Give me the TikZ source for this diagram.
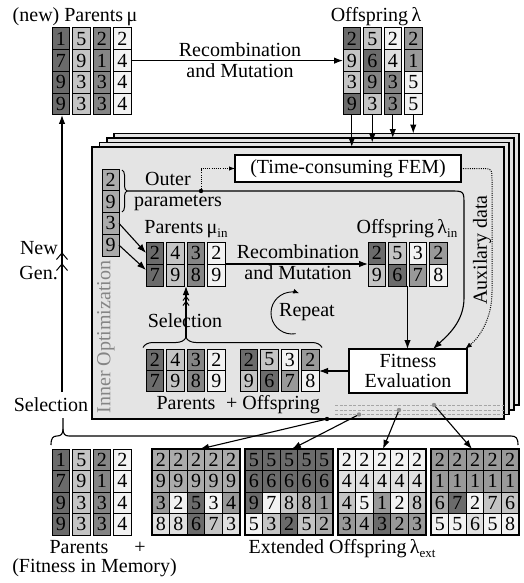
\documentclass[tikz,border=0pt]{standalone}
\usepackage{fontspec}
\setmainfont{Liberation Serif}
\usetikzlibrary{arrows.meta,decorations.pathreplacing,calc}
\definecolor{g1}{gray}{0.42}
\definecolor{g2}{gray}{0.52}
\definecolor{g3}{gray}{0.60}
\definecolor{g4}{gray}{0.67}
\definecolor{g5}{gray}{0.77}
\definecolor{g6}{gray}{0.88}
\definecolor{g7}{gray}{0.95}
\definecolor{fr}{gray}{0.895}
\definecolor{innerg}{gray}{0.52}
\definecolor{dotg}{gray}{0.55}
\newcommand\cellcol[6]{%
  \foreach \dg/\cl [count=\ii] in {#6}{%
    \node[cell,fill=\cl,minimum width=#4pt,minimum height=#5pt,anchor=north west] (#1-\ii) at ({#2},{-#3-(\ii-1)*#5}) {\dg};}}
\newcommand\cellrow[6]{%
  \foreach \dg/\cl [count=\ii] in {#6}{%
    \node[cell,fill=\cl,minimum width=#4pt,minimum height=#5pt,anchor=north west] (#1-\ii) at ({#2+(\ii-1)*#4},{-#3}) {\dg};}}
\newcommand\subtxt[1]{\raisebox{-4pt}{\fontsize{13}{13}\selectfont #1}}
\begin{document}
\begin{tikzpicture}[x=1pt,y=1pt,font=\fontsize{20}{20}\selectfont,
  cell/.style={draw,line width=1pt,inner sep=0pt,outer sep=0pt},
  arr/.style={-{Latex[length=9pt,width=6.5pt]},line width=1.1pt},
  frm/.style={draw,line width=1.1pt,fill=fr,anchor=north west,inner sep=0pt,outer sep=0pt},
  box/.style={draw,line width=1.1pt,fill=white,inner sep=0pt,outer sep=0pt},
  dotl/.style={line width=1pt,dash pattern=on 1pt off 1.2pt},
  bk/.style={line width=0.8pt,draw=gray!70,dash pattern=on 3pt off 1.5pt},
  lbl/.style={inner sep=0pt,anchor=base},
  chev/.style={line width=1pt}]
\useasboundingbox (0,0) rectangle (523,-583);

% ---------- stacked frames ----------
\node[frm,minimum width=405,minimum height=271.5] (F3) at (114,-133.5) {};
\node[frm,minimum width=407,minimum height=272] (F2) at (107,-138) {};
\node[frm,minimum width=409.5,minimum height=272] (F1) at (99.5,-142.5) {};
\node[frm,minimum width=412,minimum height=272] (F0) at (92,-147) {};
\coordinate (dsx) at (335,0);
\foreach \f in {F1,F2,F3} \draw[bk] (\f.south -| dsx) -- (\f.south -| F0.east);

% ---------- top parents ----------
\node[lbl] (tpl) at (75,-22) {(new) Parents\,μ};
\cellcol{TPa}{52}{28}{17.5}{21.75}{1/g1,7/g1,9/g1,9/g1}
\cellcol{TPb}{72.5}{28}{17.5}{21.75}{5/g5,9/g5,3/g5,3/g5}
\cellcol{TPc}{93}{28}{17.5}{21.75}{2/g2,1/g2,3/g2,3/g2}
\cellcol{TPd}{113.5}{28}{17.5}{21.75}{2/g7,4/g7,4/g7,4/g7}

% ---------- top offspring ----------
\node[lbl] (tol) at (376,-22) {Offspring\,λ};
\cellcol{TOa}{343}{28}{17.5}{21.75}{2/g1,9/g5,3/g5,9/g1}
\cellcol{TOb}{363.5}{28}{17.5}{21.75}{5/g5,6/g1,9/g2,3/g5}
\cellcol{TOc}{384}{28}{17.5}{21.75}{2/g7,4/g6,3/g2,3/g2}
\cellcol{TOd}{404.5}{28}{17.5}{21.75}{2/g3,1/g3,5/g7,5/g7}

\draw[arr] (TPd-2.east) -- (TOa-2.west);
\node[lbl] (rm1) at (240,-57) {Recombination};
\node[lbl] (rm2) at (240,-78) {and Mutation};

\draw[arr] (TOa-4.south) -- (TOa-4.south |- F0.north);
\draw[arr] (TOb-4.south) -- (TOb-4.south |- F1.north);
\draw[arr] (TOc-4.south) -- (TOc-4.south |- F2.north);
\draw[arr] (TOd-4.south) -- (TOd-4.south |- F3.north);

% ---------- inner optimization ----------
\node[rotate=90,text=innerg] (io) at (106,-337) {Inner Optimization};
\cellcol{OP}{102}{169}{17}{21.75}{2/g4,9/g4,3/g4,9/g4}
\draw[line width=1pt,decorate,decoration={brace,amplitude=5pt}] (122,-170) -- (122,-212);
\node[lbl] (outer) at (168,-185.5) {Outer};
\node[lbl] (param) at (178,-206) {parameters};

\node[box,minimum width=226,minimum height=27,anchor=north west] (FEM) at (235,-155) {(Time-consuming FEM)};
\node[box,minimum width=118,minimum height=44,anchor=north west,align=center] (fit) at (349,-349) {Fitness\\Evaluation};

\coordinate (ob) at (127,-191);
\coordinate (jd) at (201,-191);
\coordinate (fa) at (433,-349);
\coordinate (fb) at (465,-349);
\draw[arr] (ob) -- (450,-191) .. controls (464,-191) .. (464,-205) -- (464,-298) .. controls (464,-322) and (447,-336) .. (fa);
\draw[dotl,-{Latex[length=6pt,width=4.5pt]}] (jd) |- (FEM.west);
\fill (jd) circle (2.2);
\draw[dotl,-{Latex[length=7pt,width=5pt]}] (FEM.east) -- (480,-168.5) .. controls (492,-168.5) .. (492,-181) -- (492,-292) .. controls (492,-318) and (480,-337) .. (fb);
\node[rotate=90] (aux) at (482,-250) {Auxilary data};

\node[lbl] (pil) at (186,-233) {Parents\,μ\subtxt{in}};
\cellcol{PIa}{146}{242}{17.5}{22}{2/g1,7/g1}
\cellcol{PIb}{166.5}{242}{17.5}{22}{4/g5,9/g5}
\cellcol{PIc}{187}{242}{17.5}{22}{3/g2,8/g2}
\cellcol{PId}{207.5}{242}{17.5}{22}{2/g7,9/g7}

\node[lbl] (oil) at (407,-233) {Offspring\,λ\subtxt{in}};
\cellcol{OIa}{368}{242}{17.5}{22}{2/g1,9/g5}
\cellcol{OIb}{388.5}{242}{17.5}{22}{5/g5,6/g1}
\cellcol{OIc}{409}{242}{17.5}{22}{3/g7,7/g3}
\cellcol{OId}{429.5}{242}{17.5}{22}{2/g3,8/g7}

\draw[arr] (OP-3.east) -- (PIa-1.west);
\draw[arr] (OP-4.east) -- ($(PIa-2.west)+(0,5)$);

\draw[arr] (PId-2.north east) -- (OIa-2.north west);
\node[lbl] (rm3) at (298,-258) {Recombination};
\node[lbl] (rm4) at (298,-279) {and Mutation};

\coordinate (oic) at ($(OIb-2.south east)!0.5!(OIc-2.south west)$);
\draw[arr] (oic) -- (oic |- fit.north);

\node[lbl] (rep) at (307,-316) {Repeat};
\draw[-{Latex[length=6pt,width=5pt]},line width=0.9pt] ($(292,-313)+(-80:21)$) arc[start angle=-80,end angle=-290,radius=21];

% parents + offspring inside
\cellcol{QPa}{146}{349}{17.5}{21}{2/g1,7/g1}
\cellcol{QPb}{166.5}{349}{17.5}{21}{4/g5,9/g5}
\cellcol{QPc}{187}{349}{17.5}{21}{3/g2,8/g2}
\cellcol{QPd}{207.5}{349}{17.5}{21}{2/g7,9/g7}
\cellcol{QOa}{240}{349}{17.5}{21}{2/g1,9/g5}
\cellcol{QOb}{260.5}{349}{17.5}{21}{5/g5,6/g1}
\cellcol{QOc}{281}{349}{17.5}{21}{3/g7,7/g3}
\cellcol{QOd}{301.5}{349}{17.5}{21}{2/g3,8/g7}
\node[lbl] (qpl) at (186,-409) {Parents};
\node[lbl] (qol) at (273,-409) {+ Offspring};
\draw[arr] (fit.west) -- (fit.west -| QOd-1.east);

\draw[line width=1pt,decorate,decoration={brace,amplitude=10pt,aspect=0.24}] (143,-347.5) -- (322,-347.5);
\coordinate (btip) at (186,-337.5);
\draw[arr] (btip) -- (btip |- PIa-2.south);
\draw[chev] (183,-300.5) -- (186,-296.5) -- (189,-300.5);
\draw[chev] (183,-305.5) -- (186,-301.5) -- (189,-305.5);
\node[lbl] (sel) at (185,-327) {Selection};

% ---------- left outer loop ----------
\node[lbl] (selo) at (51,-411) {Selection};
\coordinate (selA) at (62,-392);
\draw[arr] (selA) -- (selA |- TPa-4.south);
\draw[chev] (56.5,-259.5) -- (62,-253) -- (67.5,-259.5);
\draw[chev] (56.5,-270.5) -- (62,-264) -- (67.5,-270.5);
\node[lbl,anchor=base east] (nw) at (58,-254) {New};
\node[lbl,anchor=base east] (gn) at (58,-279) {Gen.};

\draw[line width=1.1pt] (51,-445) .. controls (51,-438) and (53,-436) .. (57,-436) .. controls (61,-436) and (63,-434) .. (63,-429) -- (63,-418);
\draw[line width=1.1pt] (63,-429) .. controls (63,-434) and (65,-436) .. (69,-436) -- (511,-436) .. controls (516,-436) and (518,-438) .. (518,-445);

% ---------- bottom parents ----------
\cellcol{BPa}{52}{449}{17.5}{21.5}{1/g1,7/g1,9/g1,9/g1}
\cellcol{BPb}{72.5}{449}{17.5}{21.5}{5/g5,9/g5,3/g5,3/g5}
\cellcol{BPc}{93}{449}{17.5}{21.5}{2/g2,1/g2,3/g2,3/g2}
\cellcol{BPd}{113.5}{449}{17.5}{21.5}{2/g7,4/g7,4/g7,4/g7}
\node[lbl] (bpl) at (79,-553) {Parents};
\node[lbl] (plus) at (140,-553) {+};
\node[lbl] (fim) at (94.5,-572) {(Fitness in Memory)};

% ---------- extended offspring ----------
\cellrow{E1-1}{152}{449}{17.6}{21.5}{2/g4,2/g4,2/g4,2/g4,2/g4}
\cellrow{E1-2}{152}{470.5}{17.6}{21.5}{9/g4,9/g4,9/g4,9/g4,9/g4}
\cellrow{E1-3}{152}{492}{17.6}{21.5}{3/g3,2/g7,5/g1,3/g7,4/g3}
\cellrow{E1-4}{152}{513.5}{17.6}{21.5}{8/g6,8/g6,6/g1,7/g5,3/g6}
\cellrow{E2-1}{245}{449}{17.6}{21.5}{5/g1,5/g1,5/g1,5/g1,5/g1}
\cellrow{E2-2}{245}{470.5}{17.6}{21.5}{6/g1,6/g1,6/g1,6/g1,6/g1}
\cellrow{E2-3}{245}{492}{17.6}{21.5}{9/g1,7/g7,8/g5,8/g4,1/g3}
\cellrow{E2-4}{245}{513.5}{17.6}{21.5}{5/g7,3/g5,2/g1,5/g5,2/g4}
\cellrow{E3-1}{338}{449}{17.6}{21.5}{2/g7,2/g7,2/g7,2/g7,2/g7}
\cellrow{E3-2}{338}{470.5}{17.6}{21.5}{4/g6,4/g6,4/g6,4/g6,4/g6}
\cellrow{E3-3}{338}{492}{17.6}{21.5}{4/g5,5/g7,1/g3,2/g7,8/g5}
\cellrow{E3-4}{338}{513.5}{17.6}{21.5}{3/g3,4/g4,3/g1,2/g3,3/g3}
\cellrow{E4-1}{431}{449}{17.6}{21.5}{2/g3,2/g3,2/g3,2/g3,2/g3}
\cellrow{E4-2}{431}{470.5}{17.6}{21.5}{1/g3,1/g3,1/g3,1/g3,1/g3}
\cellrow{E4-3}{431}{492}{17.6}{21.5}{6/g4,7/g1,2/g7,7/g5,6/g5}
\cellrow{E4-4}{431}{513.5}{17.6}{21.5}{5/g7,5/g7,6/g6,5/g7,8/g7}
\foreach \b in {E1,E2,E3,E4} \draw[line width=1.3pt] (\b-1-1.north west) rectangle (\b-4-5.south east);
\node[lbl] (eol) at (342,-553) {Extended Offspring\,λ\subtxt{ext}};

% ---------- arrows to extended offspring ----------
\coordinate (d0) at (327,-419);
\coordinate (d1) at (359,-414.5);
\coordinate (d2) at (399,-410);
\coordinate (d3) at (434,-405);
\draw[arr] (d0) -- ($(E1-1-3.north)+(4,0)$);
\draw[arr] (d1) -- ($(E2-1-3.north)+(3,0)$);
\draw[arr] (d2) -- ($(E3-1-3.north)+(1,0)$);
\draw[arr] (d3) -- ($(E4-1-3.north)+(-3,0)$);
\fill (d0) circle (2.2);
\fill[dotg] (d1) circle (2.2);
\fill[dotg] (d2) circle (2.2);
\fill[dotg] (d3) circle (2.2);
\end{tikzpicture}
\end{document}
